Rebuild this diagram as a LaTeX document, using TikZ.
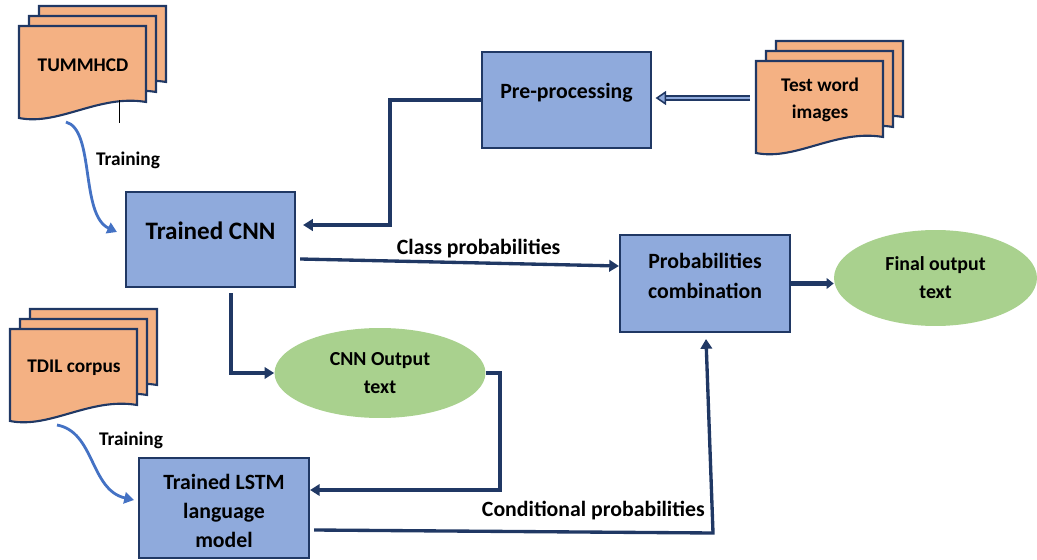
\documentclass[tikz,border=0pt]{standalone}
\usepackage{fontspec}
\setmainfont{Carlito}
\usetikzlibrary{arrows.meta,calc,fit,shapes.geometric}
\definecolor{navy}{HTML}{203864}
\definecolor{boxfill}{HTML}{8FAADC}
\definecolor{docfill}{HTML}{F4B183}
\definecolor{ovalfill}{HTML}{A9D18E}
\definecolor{trainblue}{HTML}{4472C4}
\tikzset{
  box/.style={draw=navy, fill=boxfill, line width=1.2pt, inner sep=0pt},
  doc/.style={draw=navy, fill=docfill, line width=1.2pt},
  oval/.style={ellipse, fill=ovalfill, align=center, inner sep=0pt,
    font=\fontsize{11.3}{15.9}\selectfont\bfseries},
  boxtxt/.style={align=center, font=\fontsize{12.4}{17}\selectfont\bfseries},
  doctxt/.style={align=center, font=\fontsize{11}{15.3}\selectfont\bfseries},
  lbl/.style={font=\fontsize{11}{13}\selectfont\bfseries},
  elbl/.style={font=\fontsize{12.4}{14}\selectfont\bfseries, inner sep=2pt},
  arr/.style={draw=navy, line width=1.9pt, -{Triangle[length=5.5pt,width=6.5pt]}},
  train/.style={draw=trainblue, line width=1.6pt, -{Triangle[length=5.5pt,width=6.5pt]}},
  dbl/.style={draw=navy, line width=0.9pt, double=boxfill, double distance=1.5pt,
    -{Triangle[length=6pt,width=8pt,fill=boxfill]}},
}
\begin{document}
\begin{tikzpicture}[x=0.02cm,y=-0.02cm]
\useasboundingbox (0,0) rectangle (1037,560);
% document stacks
\foreach \x/\y/\nm/\txt in {19/26/tumm/TUMMHCD, 756/61/test/{Test word\\images}, 10/329/tdil/{TDIL corpus}}{
  \foreach \d in {20,10,0}
    \draw[doc] (\x+\d,\y-\d) -- (\x+\d+127,\y-\d) -- (\x+\d+127,\y-\d+76)
      .. controls (\x+\d+80,\y-\d+68) and (\x+\d+40,\y-\d+100) .. (\x+\d,\y-\d+92) -- cycle;
  \node[doctxt] (\nm) at (\x+64,\y+39) {\txt};
  \coordinate (\nm-s) at (\x+47,\y+96);
  \coordinate (\nm-w) at (\x-6,\y+37);
}
\draw[black, thin] ($(tumm)+(36,35)$) -- ++(0,23);

% blocks
\node[box, fit={(482,52) (651,148)}] (pre) {};
\node[boxtxt] (pretxt) at ($(pre)+(0,-7)$) {Pre-processing};
\node[box, fit={(126,192) (295,287)}] (cnn) {};
\node[boxtxt, font=\fontsize{14.3}{17}\selectfont\bfseries] (cnntxt) at ($(cnn)+(0,-8.5)$) {Trained CNN};
\node[box, fit={(620,235) (790,332)}] (comb) {};
\node[boxtxt] (combtxt) at ($(comb)+(0,-7.5)$) {Probabilities\\combination};
\node[box, fit={(139,458) (309,558)}] (lstm) {};
\node[boxtxt, font=\fontsize{12.4}{16.7}\selectfont\bfseries] (lstmtxt) at ($(lstm)+(0,3)$) {Trained LSTM\\language\\model};

\node[oval, minimum width=4.22cm, minimum height=1.8cm] (cnnout) at (380,373) {CNN Output\\text};
\node[oval, minimum width=4.06cm, minimum height=1.92cm] (final) at (935.5,278) {Final output\\text};

% training
\draw[train] (tumm-s) .. controls (95,130) and (80,215) .. ($(cnn.west)+(-8,-7.5)$);
\node[lbl] (tr1) at (128,160) {Training};
\draw[train] (tdil-s) .. controls (95,432) and (90,490) .. ($(lstm.west)+(-4,-8)$);
\node[lbl] (tr2) at (131,440) {Training};

% connectors
\coordinate (j1) at (390,225);
\coordinate (j2) at (500,490);
\coordinate (j3) at (713,533);
\draw[dbl, shorten >=2pt] (test-w) -- (test-w -| pre.east);
\draw[arr, shorten >=4pt] (pre.west) -| (j1) -- (j1 -| cnn.east);
\draw[arr] ($(cnn.east)+(4,19.5)$) -- node[elbl, pos=0.56, above] (cls) {Class probabilities} ($(comb.west)+(0,-17.5)$);
\draw[arr, line width=2.4pt, -{Triangle[length=4pt,width=6pt]}] (comb.east) -- (comb.east -| final.west);
\draw[arr] ($(cnn.south)+(20.5,5)$) |- (cnnout.west);
\draw[arr] (cnnout.east) -| (j2) -- (j2 -| lstm.east);
\draw[arr] ($(lstm.east)+(4,22)$) -- node[elbl, pos=0.7, above=4pt] (cond) {Conditional probabilities} (j3) -- ($(comb.south)+(1,6)$);
\end{tikzpicture}
\end{document}
